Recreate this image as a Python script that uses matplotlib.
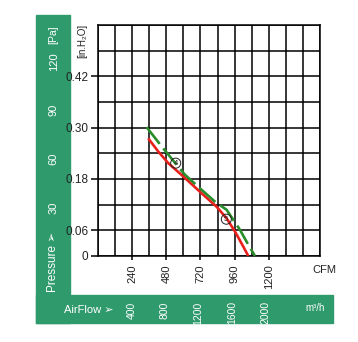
import matplotlib

matplotlib.use("Agg")
import matplotlib.pyplot as plt
from matplotlib.patches import Rectangle
from matplotlib.ticker import MultipleLocator

plt.rcParams["font.family"] = ["Liberation Sans Narrow", "Liberation Sans", "DejaVu Sans"]

# curve data (CFM, inH2O)
red_cfm = [353, 424, 494, 599, 717, 834, 904, 963, 1021, 1056]
red_p = [0.275, 0.244, 0.217, 0.186, 0.150, 0.115, 0.088, 0.057, 0.022, 0.0]
green_cfm = [342, 448, 553, 611, 717, 822, 904, 998, 1045, 1103]
green_p = [0.301, 0.256, 0.213, 0.190, 0.158, 0.127, 0.108, 0.061, 0.033, 0.0]

# operating point markers
marks = ["4", "5"]
mark_cfm = [546, 902]
mark_p = [0.217, 0.086]

cfm_ticks = [240, 480, 720, 960, 1200]
inh2o_ticks = [0, 0.06, 0.18, 0.30, 0.42]
pa_ticks = [30, 60, 90, 120]
m3h_ticks = [400, 800, 1200, 1600, 2000]

GREEN_BG = "#2f9a6c"
RED = "#e8201c"
GREEN = "#2a8c2a"

fig = plt.figure(figsize=(3.58, 3.42), dpi=100)

# green frame strips (left + bottom), behind everything
fig.patches.append(Rectangle((0.1006, 0.0556), 0.095, 0.9006, transform=fig.transFigure,
                             color=GREEN_BG, zorder=-5))
fig.patches.append(Rectangle((0.1006, 0.0556), 0.8296, 0.0819, transform=fig.transFigure,
                             color=GREEN_BG, zorder=-5))

ax = fig.add_axes([0.2737, 0.2515, 0.6201, 0.6754])
ax.patch.set_alpha(0)
ax.set_xlim(0, 1560)
ax.set_ylim(0, 0.54)

ax.plot(red_cfm, red_p, color=RED, lw=1.9, solid_capstyle="butt", zorder=3)
ax.plot(green_cfm, green_p, color=GREEN, lw=1.9, dashes=(8, 2.2), zorder=3)
for m, x, y in zip(marks, mark_cfm, mark_p):
    ax.text(x, y, m, ha="center", va="center", fontsize=5.5, color="#222222", zorder=4,
            bbox=dict(boxstyle="circle,pad=0.2", fc="none", ec="#222222", lw=0.7))

# grid every 120 CFM / 0.06 inH2O
ax.xaxis.set_minor_locator(MultipleLocator(120))
ax.yaxis.set_minor_locator(MultipleLocator(0.06))
ax.grid(which="both", color="black", lw=1.1)
ax.set_axisbelow(True)
for s in ax.spines.values():
    s.set_linewidth(1.1)

ax.set_xticks(cfm_ticks)
ax.set_xticklabels([str(v) for v in cfm_ticks], rotation=90, fontsize=8, color="#222222")
ax.set_yticks(inh2o_ticks)
ax.set_yticklabels(["0", "0.06", "0.18", "0.30", "0.42"], fontsize=8.5, color="#222222")
ax.tick_params(axis="x", which="major", length=3, width=1.1, pad=3)
ax.tick_params(axis="y", which="major", length=5, width=1.1, pad=2)
ax.tick_params(which="minor", length=0)

ax.text(1.02, -0.06, "CFM", transform=ax.transAxes, ha="center", va="center",
        fontsize=8, color="#222222")
fig.text(0.229, 0.88, "[in.H₂O]", rotation=90, ha="center", va="center",
         fontsize=7, color="#222222")

# Pa scale on the green strip
pa = ax.secondary_yaxis(-0.17, functions=(lambda v: v * 264, lambda v: v / 264))
pa.set_yticks(pa_ticks)
pa.set_yticklabels([str(v) for v in pa_ticks], rotation=90, fontsize=8, color="white",
                   va="center")
pa.tick_params(length=0, pad=1)
pa.spines["left"].set_visible(False)
fig.text(0.148, 0.9, "[Pa]", rotation=90, ha="center", va="center",
         fontsize=7.5, color="white")
fig.text(0.148, 0.235, "Pressure ➢", rotation=90, ha="center", va="center",
         fontsize=8.5, color="white")

# m3/h scale on the bottom strip
mh = ax.secondary_xaxis(-0.19, functions=(lambda v: v * 1.699, lambda v: v / 1.699))
mh.set_xticks(m3h_ticks)
mh.set_xticklabels([str(v) for v in m3h_ticks], rotation=90, fontsize=7.5, color="white")
mh.tick_params(length=0, pad=1)
mh.spines["bottom"].set_visible(False)
fig.text(0.247, 0.094, "AirFlow ➢", ha="center", va="center", fontsize=8, color="white")
fig.text(0.88, 0.1, "m³/h", ha="center", va="center", fontsize=7, color="white")

fig.savefig("out.png", dpi=100)
